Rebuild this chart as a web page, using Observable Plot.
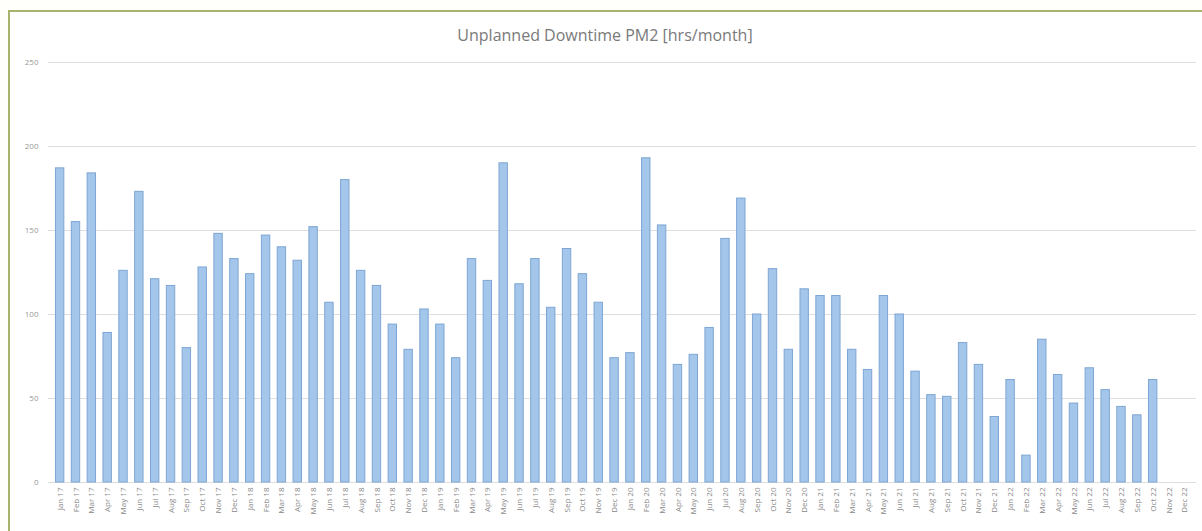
<!DOCTYPE html>
<html>
<head>
<meta charset="utf-8">
<script src="https://cdn.jsdelivr.net/npm/d3@7"></script>
<script src="https://cdn.jsdelivr.net/npm/@observablehq/plot@0.6"></script>
<style>
  html, body { margin: 0; padding: 0; background: #fffffb; width: 1202px; height: 531px; overflow: hidden; }
  #frame { position: absolute; left: 8px; top: 10px; width: 1194px; height: 521px; border-top: 2px solid #a9b36b; border-left: 2px solid #a9b36b; background: #ffffff; box-sizing: border-box; }
  #title { position: absolute; left: 4px; top: 24px; width: 1202px; text-align: center; font-family: "Open Sans", "Noto Sans", sans-serif; font-size: 16px; color: #7a7a7a; }
  #chart { position: absolute; left: 0; top: 50px; }
</style>
</head>
<body>
<div id="frame"></div>
<div id="title">Unplanned Downtime PM2 [hrs/month]</div>
<div id="chart"></div>
<script>
const years = ["17", "18", "19", "20", "21", "22"];
const monthNames = ["Jan", "Feb", "Mar", "Apr", "May", "Jun", "Jul", "Aug", "Sep", "Oct", "Nov", "Dec"];
const months = years.flatMap(y => monthNames.map(m => `${m} ${y}`));
const downtime = [
  187, 155, 184, 89, 126, 173, 121, 117, 80, 128, 148, 133,
  124, 147, 140, 132, 152, 107, 180, 126, 117, 94, 79, 103,
  94, 74, 133, 120, 190, 118, 133, 104, 139, 124, 107, 74,
  77, 193, 153, 70, 76, 92, 145, 169, 100, 127, 79, 115,
  111, 111, 79, 67, 111, 100, 66, 52, 51, 83, 70, 39,
  61, 16, 85, 64, 47, 68, 55, 45, 40, 61, null, null
];
const yTicks = [0, 50, 100, 150, 200, 250];

const data = months.map((m, i) => ({month: m, value: downtime[i]}));

const chart = Plot.plot({
  width: 1202,
  height: 481,
  marginTop: 12,
  marginBottom: 49,
  marginLeft: 48,
  marginRight: 6,
  style: {fontFamily: "'Open Sans', 'Noto Sans', sans-serif", background: "transparent"},
  x: {domain: months, padding: 0.47, label: null},
  y: {domain: [0, 250], label: null},
  marks: [
    Plot.ruleY(yTicks, {stroke: "#dedede", strokeWidth: 1.2}),
    Plot.barY(data.filter(d => d.value != null), {x: "month", y: "value", fill: "#a3c6ea", stroke: "#7ea6d4", strokeWidth: 1}),
    Plot.axisY(yTicks, {tickSize: 0, tickPadding: 10, fontSize: 8, fill: "#999", label: null}),
    Plot.axisX({tickSize: 0, tickPadding: 5, tickRotate: -90, fontSize: 8, fill: "#888", label: null})
  ]
});
document.getElementById("chart").appendChild(chart);
</script>
</body>
</html>
